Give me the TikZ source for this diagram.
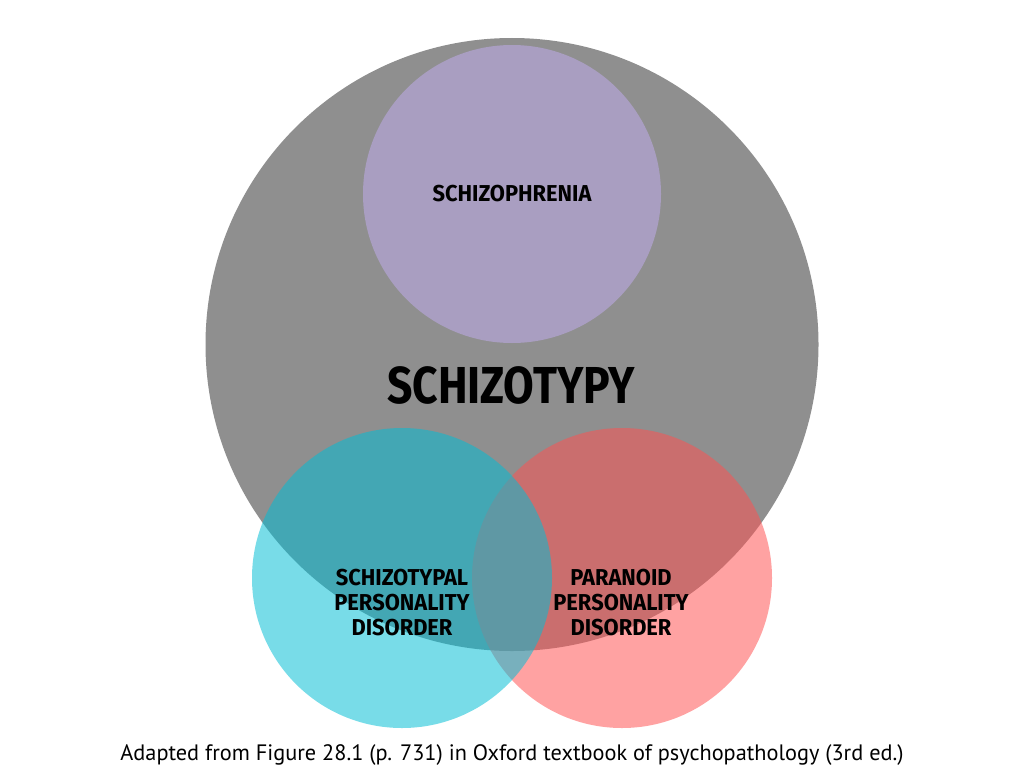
\documentclass[tikz,border=0pt]{standalone}
\usepackage{fontspec}
\setmainfont{PT Sans}
\newfontfamily\setfont{Fira Sans}
\definecolor{greyset}{HTML}{8F8F8F}
\definecolor{lilacset}{HTML}{A99EC1}
\definecolor{cyanset}{RGB}{0,190,213}
\definecolor{redset}{RGB}{255,81,81}
\tikzset{
  setlabel/.style={font=\setfont\bfseries\fontsize{23}{25}\selectfont, align=center, text=black},
  overlap/.style={opacity=0.53}
}
\newcommand*\squeezed[1]{\scalebox{0.95}[1]{#1}}

\begin{document}
\begin{tikzpicture}[x=1pt,y=-1pt]
\useasboundingbox (0,0) rectangle (1024,768);
\fill[white] (0,0) rectangle (1024,768);
\fill[greyset] (512,344.5) circle (306.5);
\fill[lilacset] (512,194) circle (149);
\fill[redset,overlap] (622,578) circle (150);
\fill[cyanset,overlap] (402,578) circle (150);
\node[setlabel] (schizophrenia) at (512,194) {\squeezed{SCHIZOPHRENIA}};
\node[setlabel,font=\setfont\bfseries\fontsize{52}{60}\selectfont] (schizotypy) at (511,385) {\scalebox{0.855}[1]{SCHIZOTYPY}};
\node[setlabel] (spd) at (402,603) {\squeezed{SCHIZOTYPAL}\\\squeezed{PERSONALITY}\\\squeezed{DISORDER}};
\node[setlabel] (ppd) at (621,603) {\squeezed{PARANOID}\\\squeezed{PERSONALITY}\\\squeezed{DISORDER}};
\node[font=\fontsize{22.3}{26}\selectfont] (caption) at (512,755) {Adapted from Figure 28.1 (p. 731) in Oxford textbook of psychopathology (3rd ed.)};
\end{tikzpicture}
\end{document}
